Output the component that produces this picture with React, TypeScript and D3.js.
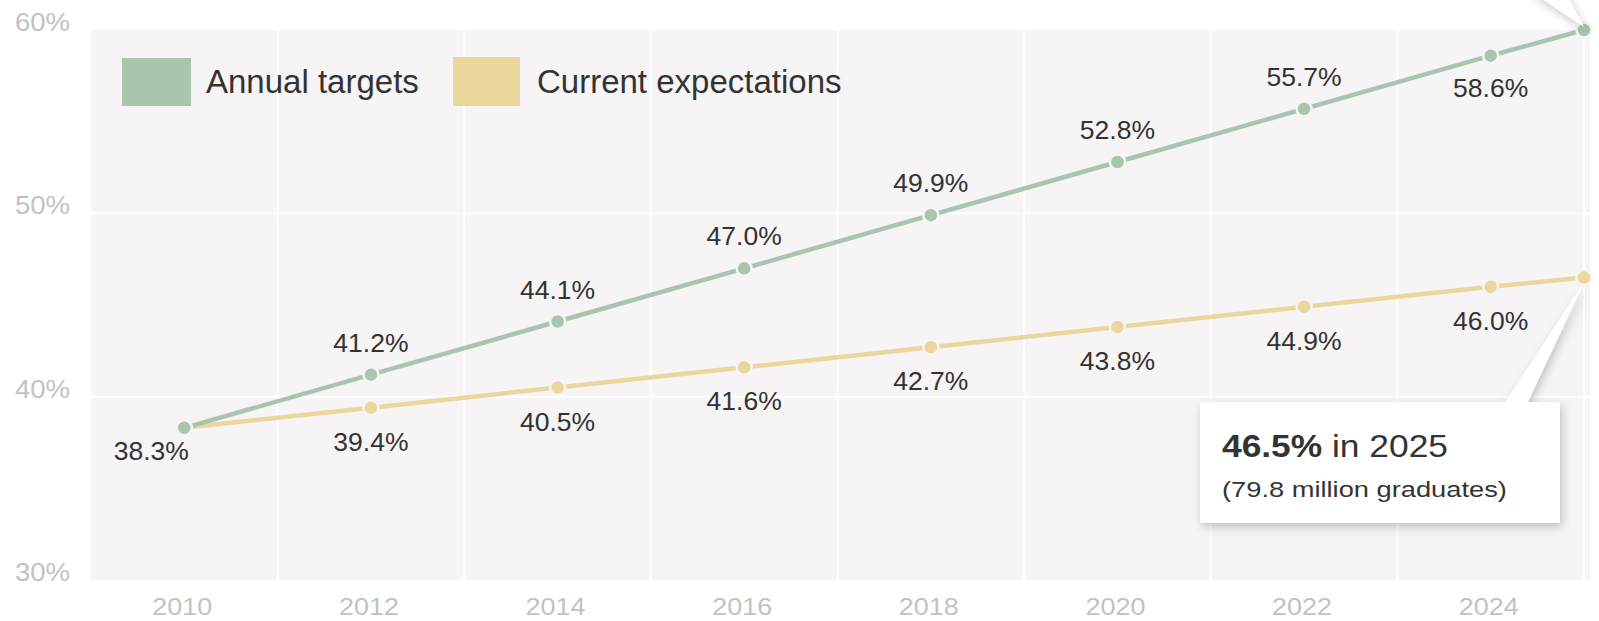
import React from "react";
import * as d3 from "d3";

const years = [2010, 2012, 2014, 2016, 2018, 2020, 2022, 2024, 2025];
const annualTargets = [38.3, 41.2, 44.1, 47.0, 49.9, 52.8, 55.7, 58.6, 60.0];
const currentExpectations = [38.3, 39.4, 40.5, 41.6, 42.7, 43.8, 44.9, 46.0, 46.5];
const xTickYears = [2010, 2012, 2014, 2016, 2018, 2020, 2022, 2024];
const gridYears = [2011, 2013, 2015, 2017, 2019, 2021, 2023, 2025];
const yTicks = [30, 40, 50, 60];
const seriesNames = ["Annual targets", "Current expectations"];
const calloutValue = "46.5%";
const calloutRest = " in 2025";
const calloutNote = "(79.8 million graduates)";

const W = 1599;
const H = 621;
const FONT = "'Liberation Sans', Arial, Helvetica, sans-serif";
const GREEN = "#a9c5ae";
const YELLOW = "#e9d79d";
const BG = "#f6f4f5";

export default function App() {
  const x = d3.scaleLinear().domain([2009, 2025]).range([91, 1584]);
  const y = d3.scaleLinear().domain([30, 60]).range([580, 30]);
  const line = d3
    .line<number>()
    .x((_, i) => x(years[i]))
    .y((d) => y(d));

  const fmt = (v: number) => v.toFixed(1) + "%";
  const last = years.length - 1;

  return (
    <svg
      width={W}
      height={H}
      style={{ position: "absolute", left: 0, top: 0, background: "#fff" }}
      fontFamily={FONT}
    >
      <defs>
        <filter id="shadow" x="-30%" y="-30%" width="160%" height="160%">
          <feDropShadow dx="2" dy="4" stdDeviation="5" floodColor="#000" floodOpacity="0.22" />
        </filter>
      </defs>

      {/* plot background */}
      <rect x={91} y={y(60)} width={1590 - 91} height={y(30) - y(60)} fill={BG} />
      {gridYears.map((g) => (
        <line key={g} x1={x(g)} x2={x(g)} y1={y(60)} y2={y(30)} stroke="#fff" strokeWidth={2} />
      ))}
      {yTicks.slice(1, -1).map((t) => (
        <line key={t} x1={91} x2={1590} y1={y(t)} y2={y(t)} stroke="#fff" strokeWidth={2} />
      ))}

      {/* y axis labels */}
      {yTicks.map((t) => (
        <g key={t} transform={`translate(15,${y(t) + 1}) scale(1.1,1)`}>
          <text fontSize={25} fill="#c2c2c2">
            {t}%
          </text>
        </g>
      ))}

      {/* x axis labels */}
      {xTickYears.map((yr) => (
        <g key={yr} transform={`translate(${x(yr) - 2},615) scale(1.1,1)`}>
          <text fontSize={24.5} fill="#c2c2c2" textAnchor="middle">
            {yr}
          </text>
        </g>
      ))}

      {/* legend */}
      <rect x={122} y={58} width={69} height={48} fill={GREEN} />
      <text x={206} y={93} fontSize={33} fill="#333">
        {seriesNames[0]}
      </text>
      <rect x={453} y={57} width={67} height={49} fill={YELLOW} />
      <text x={537} y={93} fontSize={33} fill="#333">
        {seriesNames[1]}
      </text>

      {/* lines */}
      <path d={line(currentExpectations) || ""} fill="none" stroke={YELLOW} strokeWidth={4.5} />
      {currentExpectations.map((v, i) => (
        <circle key={i} cx={x(years[i])} cy={y(v)} r={7.5} fill={YELLOW} stroke={BG} strokeWidth={2.5} />
      ))}
      <path d={line(annualTargets) || ""} fill="none" stroke={GREEN} strokeWidth={4.5} />
      {annualTargets.map((v, i) => (
        <circle key={i} cx={x(years[i])} cy={y(v)} r={7.5} fill={GREEN} stroke={BG} strokeWidth={2.5} />
      ))}

      {/* data labels */}
      {annualTargets.map((v, i) => {
        if (i === last) return null;
        let lx = x(years[i]);
        let ly = y(v) - 23;
        if (i === 0) {
          lx -= 33;
          ly = y(v) + 32;
        } else if (i === last - 1) {
          ly = y(v) + 41;
        }
        return (
          <text key={i} x={lx} y={ly} fontSize={26.5} fill="#333" textAnchor="middle">
            {fmt(v)}
          </text>
        );
      })}
      {currentExpectations.map((v, i) => {
        if (i === 0 || i === last) return null;
        return (
          <text key={i} x={x(years[i])} y={y(v) + 43} fontSize={26.5} fill="#333" textAnchor="middle">
            {fmt(v)}
          </text>
        );
      })}

      {/* top callout pointer (cut off) */}
      <polygon
        points={`${x(2025)},${y(annualTargets[last]) - 3} 1526,-12 1563,-12`}
        fill="#fff"
        filter="url(#shadow)"
      />

      {/* callout */}
      <polygon
        points={`${x(2025)},${y(currentExpectations[last]) + 5} 1500,410 1524,410`}
        fill="#fff"
        filter="url(#shadow)"
      />
      <rect x={1200} y={402} width={360} height={121} fill="#fff" filter="url(#shadow)" />
      <polygon
        points={`${x(2025)},${y(currentExpectations[last]) + 5} 1500,410 1524,410`}
        fill="#fff"
      />
      <g transform="translate(1222,457) scale(1.14,1)">
        <text fontSize={31} fill="#333">
          <tspan fontWeight="bold">{calloutValue}</tspan>
          <tspan>{calloutRest}</tspan>
        </text>
      </g>
      <g transform="translate(1222,497) scale(1.24,1)">
        <text fontSize={22} fill="#333">
          {calloutNote}
        </text>
      </g>
    </svg>
  );
}
